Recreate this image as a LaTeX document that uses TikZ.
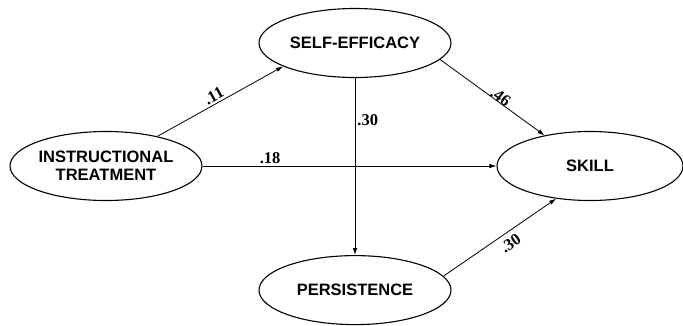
\documentclass[tikz,border=0pt]{standalone}
\usepackage{fontspec}
\setmainfont{Liberation Serif}
\setsansfont{Liberation Sans}
\usetikzlibrary{shapes.geometric,arrows.meta,positioning}

\begin{document}
\begin{tikzpicture}[x=1pt,y=-1pt,font=\sffamily\bfseries\fontsize{16.5}{18}\selectfont,node distance=177pt]
\tikzset{v/.style={draw,ellipse,line width=1.1pt,minimum width=192pt,minimum height=69pt,inner sep=0pt,align=center},
  w/.style={font=\rmfamily\bfseries\fontsize{16.5}{18}\selectfont,inner sep=2pt},
  a/.style={-{Latex[length=7pt,width=4.5pt]},line width=0.8pt}}
\useasboundingbox (0,0) rectangle (683,325);
\node[v] (se) at (355,43) {SELF-EFFICACY};
\node[v,below=of se] (per) {PERSISTENCE};
\node[v] (it) at (106,166) {INSTRUCTIONAL\\TREATMENT};
\node[v,minimum width=186pt] (sk) at (590,166) {SKILL};
\draw[a](it.30)--(se.198) node[w,pos=0.48,sloped,above]{.11};
\draw[a](se.-11)--(sk.146) node[w,pos=0.55,sloped,above=-3pt]{.46};
\draw[a](it)--(sk) node[w,pos=0.23,above]{.18};
\draw[a](se)--(per) node[w,pos=0.24,right]{.30};
\draw[a](per.9)--(sk.224) node[w,pos=0.54,sloped,below=3pt]{.30};
\end{tikzpicture}
\end{document}
